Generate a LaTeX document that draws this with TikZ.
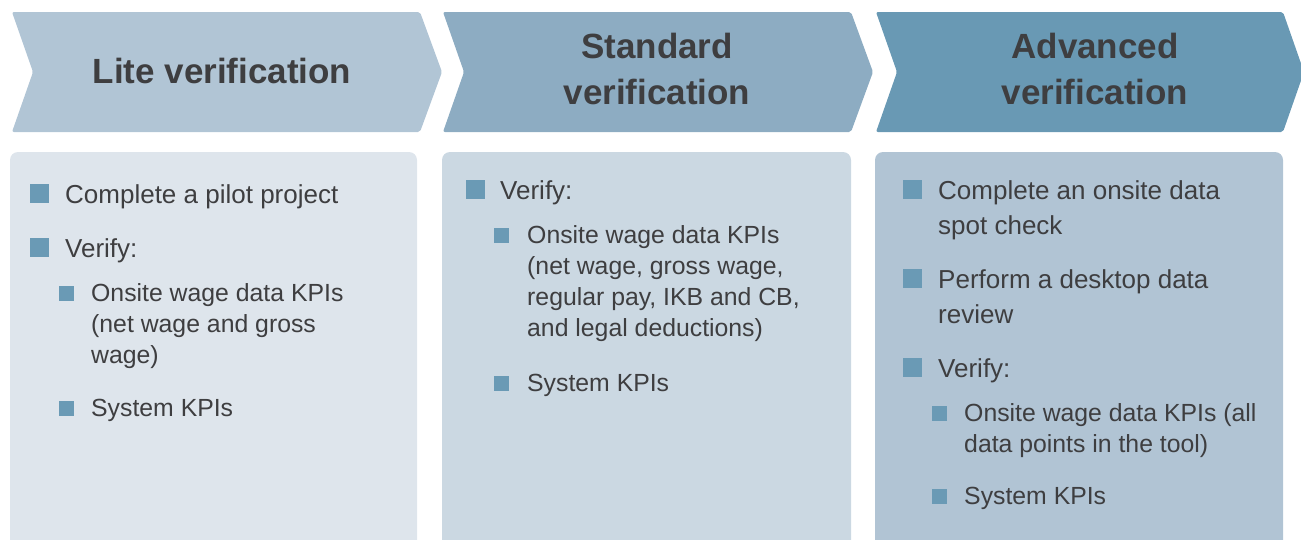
\documentclass[tikz,border=0pt]{standalone}
\usepackage{fontspec}
\setmainfont{Liberation Sans}
\definecolor{chevA}{HTML}{B1C5D5}
\definecolor{chevB}{HTML}{8DACC2}
\definecolor{chevC}{HTML}{6999B4}
\definecolor{boxA}{HTML}{DEE5EC}
\definecolor{boxB}{HTML}{CBD8E2}
\definecolor{boxC}{HTML}{B1C4D4}
\definecolor{bul}{HTML}{6A9AB5}
\definecolor{txt}{HTML}{3E3E40}
\tikzset{
  chevshape/.style={rounded corners=2pt},
  title/.style={text=txt, inner sep=0pt, anchor=base, align=center, font=\fontsize{35}{46}\selectfont\bfseries},
  bulA/.style={fill=bul, inner sep=0pt, minimum size=19pt, anchor=south west},
  bulB/.style={fill=bul, inner sep=0pt, minimum size=14.5pt, anchor=south west},
  itemA/.style={text=txt, inner sep=0pt, anchor=base west, font=\fontsize{26}{35}\selectfont},
  itemB/.style={text=txt, inner sep=0pt, anchor=base west, font=\fontsize{24.8}{31}\selectfont},
}
\newcommand{\pbx}[1]{\parbox[t]{340pt}{\raggedright #1}}
\begin{document}
\begin{tikzpicture}[x=1pt,y=-1pt]
\useasboundingbox (0,0) rectangle (1301,539);
\clip (0,0) rectangle (1301,539);
% chevrons
\fill[chevA, chevshape] (12,12) -- (420,12) -- (442,72) -- (420,132) -- (12,132) -- (33,72) -- cycle;
\fill[chevB, chevshape] (443,12) -- (851,12) -- (873,72) -- (851,132) -- (443,132) -- (464,72) -- cycle;
\fill[chevC, chevshape] (876,12) -- (1283,12) -- (1304,72) -- (1283,132) -- (876,132) -- (897,72) -- cycle;
\node[title] (t1) at (222,83) {Lite verification};
\node[title] (t2) at (657,104) {Standard\\verification};
\node[title] (t3) at (1095,104) {Advanced\\verification};
% boxes
\fill[boxA, rounded corners=8pt] (10,570) -- (10,152) -- (417,152) -- (417,570) -- cycle;
\fill[boxB, rounded corners=8pt] (442,570) -- (442,152) -- (851,152) -- (851,570) -- cycle;
\fill[boxC, rounded corners=8pt] (875,570) -- (875,152) -- (1283,152) -- (1283,570) -- cycle;
% box 1
\node[bulA] (b1a) at (30,203) {};
\node[itemA] (i1a) at (65,203) {Complete a pilot project};
\node[bulA] (b1b) at (30,257) {};
\node[itemA] (i1b) at (65,257) {Verify:};
\node[bulB] (b1c) at (59,301) {};
\node[itemB] (i1c) at (91,301) {\pbx{Onsite wage data KPIs\\(net wage and gross\\wage)}};
\node[bulB] (b1d) at (59,416) {};
\node[itemB] (i1d) at (91,416) {System KPIs};
% box 2
\node[bulA] (b2a) at (466,199) {};
\node[itemA] (i2a) at (500,199) {Verify:};
\node[bulB] (b2b) at (494,243) {};
\node[itemB] (i2b) at (527,243) {\pbx{Onsite wage data KPIs\\(net wage, gross wage,\\regular pay, IKB and CB,\\and legal deductions)}};
\node[bulB] (b2c) at (494,391) {};
\node[itemB] (i2c) at (527,391) {System KPIs};
% box 3
\node[bulA] (b3a) at (903,199) {};
\node[itemA] (i3a) at (938,199) {\pbx{Complete an onsite data\\spot check}};
\node[bulA] (b3b) at (903,288) {};
\node[itemA] (i3b) at (938,288) {\pbx{Perform a desktop data\\review}};
\node[bulA] (b3c) at (903,377) {};
\node[itemA] (i3c) at (938,377) {Verify:};
\node[bulB] (b3d) at (932,421) {};
\node[itemB] (i3d) at (964,421) {\pbx{Onsite wage data KPIs (all\\data points in the tool)}};
\node[bulB] (b3e) at (932,504) {};
\node[itemB] (i3e) at (964,504) {System KPIs};
\end{tikzpicture}
\end{document}
